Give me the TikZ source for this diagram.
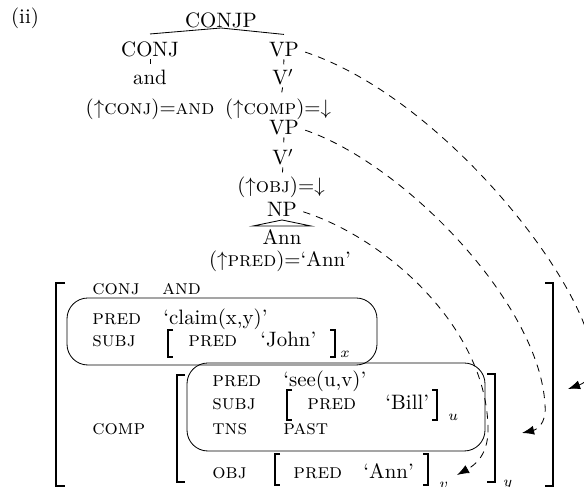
\documentclass[tikz,border=0pt]{standalone}
\usepackage{amsmath}
\usepackage{amssymb}
\usepackage{fontspec}
\usepackage{tikz}
\usetikzlibrary{arrows.meta,positioning}
\newcommand{\fatt}[1]{{\scshape\addfontfeature{LetterSpace=20}#1}}
\tikzstyle{cat}=[
	inner xsep=0pt,
	inner ysep=3.8pt,
	anchor=base]
\tikzstyle{attr}=[
	inner sep=0pt,
	anchor=base west,
	font=\scshape\addfontfeature{LetterSpace=20}]
\tikzstyle{val}=[
	attr,
	font=\normalfont]
\tikzstyle{tick}=[
	dash pattern=on 2.4pt off 30pt,
	shorten <=1.2pt]
\tikzstyle{brack}=[
	line width=0.9pt]
\tikzstyle{sbrack}=[
	line width=0.6pt]
\tikzstyle{fbox}=[
	rounded corners=10pt]
\tikzstyle{link}=[
	->,
	shorten <=3pt,
	dash pattern=on 3.5pt off 3pt]

\begin{document}
\begin{tikzpicture}[x=0.48pt,y=-0.48pt,>={Latex[length=5.8pt,width=4.3pt]}]
	\useasboundingbox (0,0) rectangle (584,487);
	\begin{scope}
		\node[cat] (ii) at (25,24) {(ii)};
		\node[cat] (conjp) at (221,28) {CONJP};
		\node[cat] (conj) at (150,57) {CONJ};
		\node[cat] (vp1) at (284,57) {VP};
		\node[cat] (and) at (150,85) {and};
		\node[cat] (vbar1) at (283,85) {V$'$};
		\node[cat] (conjeq) at (150,115) {$(\uparrow$\fatt{conj}$)\mathord{=}$\fatt{and}};
		\node[cat] (compeq) at (278,115) {$(\uparrow$\fatt{comp}$)\mathord{=}\mathord{\downarrow}$};
		\node[cat] (vp2) at (284,135) {VP};
		\node[cat] (vbar2) at (283,165) {V$'$};
		\node[cat] (objeq) at (281,193) {$(\uparrow$\fatt{obj}$)\mathord{=}\mathord{\downarrow}$};
		\node[cat] (np) at (282,217) {NP};
		\node[cat] (ann) at (282,245) {Ann};
		\node[cat] (predeq) at (280,267) {$(\uparrow$\fatt{pred}$)\mathord{=}$`Ann'};
		\draw (conjp.base) -- (conj.north);
		\draw (conjp.base) -- (vp1.north);
		\draw[tick] (conj.base) -- (and.base);
		\draw[tick] (vp1.base) -- (vbar1.base);
		\draw[tick] (vbar1.base) -- (compeq.base);
		\draw[tick] (vp2.base) -- (vbar2.base);
		\draw[tick] (vbar2.base) -- (objeq.base);
		\draw (np.base) ++(0,3) -- ++(-29,6) -- ++(58,0) -- cycle;
	\end{scope}
	\begin{scope}
		\node[attr] (conjf) at (92,295) {conj};
		\node[attr] (andf) at (162,295) {and};
		\node[attr] (predm) at (92,325) {pred};
		\node[val] (claim) at (163,325) {`claim(x,y)'};
		\node[attr] (subjm) at (92,347) {subj};
		\node[attr] (predj) at (188,347) {pred};
		\node[val] (john) at (260,347) {`John'};
		\node[val] (subx) at (340,358) {$\scriptstyle x$};
		\node[attr] (compm) at (92,435) {comp};
		\node[attr] (preds) at (212,387) {pred};
		\node[val] (see) at (283,387) {`see(u,v)'};
		\node[attr] (subjs) at (212,410) {subj};
		\node[attr] (predb) at (307,410) {pred};
		\node[val] (bill) at (385,410) {`Bill'};
		\node[val] (subu) at (448,421) {$\scriptstyle u$};
		\node[attr] (tns) at (212,435) {tns};
		\node[attr] (past) at (283,435) {past};
		\node[attr] (objs) at (212,479) {obj};
		\node[attr] (preda) at (293,479) {pred};
		\node[val] (annf) at (363,479) {`Ann'};
		\node[val] (subv) at (439,489) {$\scriptstyle v$};
		\node[val] (suby) at (503,487) {$\scriptstyle y$};
		\draw[brack] (65,283) -- (56,283) -- (56,486) -- (65,486);
		\draw[brack] (545,283) -- (553,283) -- (553,486) -- (545,486);
		\draw[brack] (185,375) -- (177,375) -- (177,482) -- (185,482);
		\draw[brack] (487,374) -- (495,374) -- (495,482) -- (487,482);
		\draw[sbrack] (173,330) -- (168,330) -- (168,357) -- (173,357);
		\draw[sbrack] (330,330) -- (335,330) -- (335,357) -- (330,357);
		\draw[sbrack] (292,390) -- (287,390) -- (287,420) -- (292,420);
		\draw[sbrack] (432,390) -- (437,390) -- (437,420) -- (432,420);
		\draw[sbrack] (280,454) -- (275,454) -- (275,485) -- (280,485);
		\draw[sbrack] (423,454) -- (428,454) -- (428,485) -- (423,485);
		\draw[fbox] (67,298) rectangle (377,365);
		\draw[fbox] (187,363) rectangle (485,451);
	\end{scope}
	\coordinate (fouter) at (568,389);
	\coordinate (fcomp) at (522,433);
	\coordinate (fobj) at (457,475);
	\draw[link] (vp1.east) .. controls (472,108) and (643,362) .. (fouter);
	\draw[link] (vp2.east) .. controls (406,165) and (540,305) .. (545,405) .. controls (547,425) and (535,430) .. (fcomp);
	\draw[link] (np.east) .. controls (388,239) and (488,330) .. (488,430) .. controls (488,455) and (475,465) .. (fobj);
\end{tikzpicture}
\end{document}
